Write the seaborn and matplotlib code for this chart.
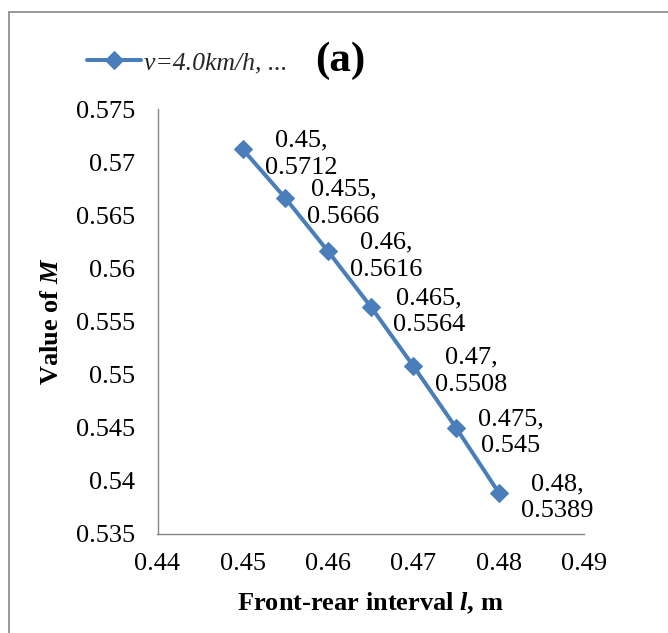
import matplotlib
matplotlib.use("Agg")
import matplotlib.pyplot as plt
from matplotlib.lines import Line2D
import seaborn as sns
import pandas as pd

# Front-rear interval l (m) and the corresponding value of M
interval_l = [0.45, 0.455, 0.46, 0.465, 0.47, 0.475, 0.48]
value_m = [0.5712, 0.5666, 0.5616, 0.5564, 0.5508, 0.545, 0.5389]
series_name = "v=4.0km/h, ..."

x_ticks = [0.44, 0.45, 0.46, 0.47, 0.48, 0.49]
y_ticks = [0.535, 0.54, 0.545, 0.55, 0.555, 0.56, 0.565, 0.57, 0.575]

df = pd.DataFrame({"l": interval_l, "M": value_m})

sns.set_theme(style="white")
plt.rcParams["font.family"] = ["Liberation Serif", "DejaVu Serif"]
plt.rcParams["mathtext.fontset"] = "custom"
plt.rcParams["mathtext.rm"] = "Liberation Serif"
plt.rcParams["mathtext.it"] = "Liberation Serif:italic"
plt.rcParams["mathtext.bf"] = "Liberation Serif:bold"
plt.rcParams["mathtext.bfit"] = "Liberation Serif:italic:bold"

W, H = 668, 633
fig = plt.figure(figsize=(W / 100, H / 100), dpi=100)
fig.patch.set_facecolor("white")

# plot area in pixel terms
left_px, right_px, top_px, bottom_px = 157.5, 584, 109, 534
ax = fig.add_axes([left_px / W, 1 - bottom_px / H,
                   (right_px - left_px) / W, (bottom_px - top_px) / H])

blue = "#4A7EBB"
gray = "#868686"

sns.lineplot(data=df, x="l", y="M", ax=ax, color=blue, linewidth=2.9,
             marker="D", markersize=9.5, markeredgecolor=blue,
             markerfacecolor=blue, label=series_name, legend=False)

ax.set_xlim(x_ticks[0], x_ticks[-1])
ax.set_ylim(y_ticks[0], y_ticks[-1])
ax.set_xticks(x_ticks)
ax.set_yticks(y_ticks)
ax.set_xticklabels([f"{t:g}" for t in x_ticks])
ax.set_yticklabels([f"{t:g}" for t in y_ticks])

for side in ("top", "right"):
    ax.spines[side].set_visible(False)
for side in ("left", "bottom"):
    ax.spines[side].set_color(gray)
    ax.spines[side].set_linewidth(1.0)

ax.tick_params(axis="both", direction="out", length=4, width=1,
               color=gray, labelsize=19, labelcolor="black")
ax.tick_params(axis="x", pad=10)
ax.tick_params(axis="y", pad=12)
ax.grid(False)

# data labels: "x,\ny" to the right of each point
for xv, yv in zip(interval_l, value_m):
    ax.annotate(f"{xv:g},\n{yv:g}", xy=(xv, yv), xytext=(22, -5),
                textcoords="offset pixels", ha="left", va="center",
                multialignment="center", fontsize=19, linespacing=1.3,
                color="black")

ax.set_xlabel(r"Front-rear interval $\mathbfit{l}$, m", fontsize=19,
              fontweight="bold", color="black")
ax.xaxis.set_label_coords(0.5, -(603 - bottom_px) / (bottom_px - top_px))
ax.xaxis.label.set_va("center")

ax.set_ylabel(r"Value of $\mathbfit{M}$", fontsize=19, fontweight="bold",
              color="black")
ax.yaxis.set_label_coords(-(left_px - 52) / (right_px - left_px), 0.5)
ax.yaxis.label.set_va("center")

# legend above the plot area
handles, labels = ax.get_legend_handles_labels()
fig.legend(handles, labels, loc="center left",
           bbox_to_anchor=(87 / W, 1 - 63 / H), bbox_transform=fig.transFigure,
           frameon=False, borderpad=0, borderaxespad=0, handlelength=2.1,
           handletextpad=0.1,
           prop={"family": "Liberation Serif", "style": "italic", "size": 18.5})

fig.text(340 / W, 1 - 61 / H, "(a)", ha="center", va="center",
         fontsize=31, fontweight="bold", color="black")

# chart area frame (left and top edges)
fig.add_artist(Line2D([9 / W, 9 / W], [0, 1 - 12 / H], transform=fig.transFigure,
                      color=gray, linewidth=1.2))
fig.add_artist(Line2D([9 / W, 1], [1 - 12 / H, 1 - 12 / H],
                      transform=fig.transFigure, color=gray, linewidth=1.2))

fig.savefig("out.png", dpi=100, facecolor="white")
